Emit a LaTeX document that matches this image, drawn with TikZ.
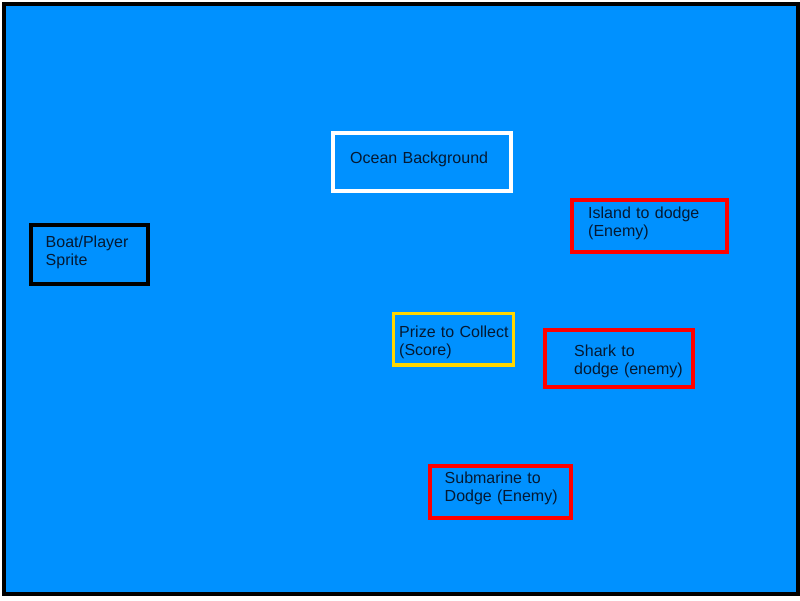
\documentclass[tikz,border=0pt]{standalone}
\usepackage{fontspec}
\setmainfont{Liberation Sans}
\definecolor{ocean}{RGB}{0,145,255}
\definecolor{txt}{RGB}{5,25,50}
\definecolor{gold}{RGB}{255,215,0}
\begin{document}
\begin{tikzpicture}[x=1pt,y=-1pt,
  frame/.style={draw=black,line width=4pt,fill=ocean},
  sprite/.style={draw,line width=4pt,inner sep=0pt},
  label/.style={anchor=base west,inner sep=0pt,text width=200pt,align=left,text=txt,
    font=\fontsize{16}{18}\selectfont}]
\useasboundingbox (0,0) rectangle (800,600);
\fill[white] (0,0) rectangle (800,600);
\draw[frame] (4,4) rectangle (798,594);
% boxes
\draw[sprite,white] (333,133) rectangle (511,190.5) node[pos=0.5,inner sep=0pt] (ocean) {};
\draw[sprite,black] (31,224.5) rectangle (147.5,284) node[pos=0.5,inner sep=0pt] (boat) {};
\draw[sprite,gold,line width=3.5pt] (393.5,313.5) rectangle (513.5,365) node[pos=0.5,inner sep=0pt] (prize) {};
\draw[sprite,red] (545,330) rectangle (693,387) node[pos=0.5,inner sep=0pt] (shark) {};
\draw[sprite,red] (429.5,465.5) rectangle (570.5,517.5) node[pos=0.5,inner sep=0pt] (sub) {};
\draw[sprite,red] (572,199.5) rectangle (727,252) node[pos=0.5,inner sep=0pt] (island) {};
% labels
\node[label] (oceanT) at (350,163.5) {Ocean Background};
\node[label] (boatT) at (45.5,247) {Boat/Player\\Sprite};
\node[label] (prizeT) at (399,337) {Prize to Collect\\(Score)};
\node[label] (sharkT) at (574,356) {Shark to\\dodge (enemy)};
\node[label] (subT) at (444.5,483) {Submarine to\\Dodge (Enemy)};
\node[label] (islandT) at (588,218) {Island to dodge\\(Enemy)};
\end{tikzpicture}
\end{document}
